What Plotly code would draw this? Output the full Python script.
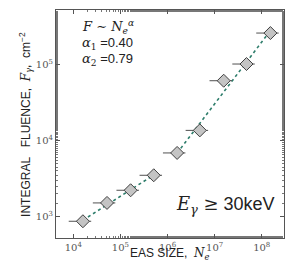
import numpy as np
import plotly.graph_objects as go

# Data
eas_size = [1.6e4, 5.2e4, 1.65e5, 5.1e5, 1.6e6, 4.85e6, 1.56e7, 4.75e7, 1.53e8]
fluence = [865, 1510, 2220, 3500, 6900, 13700, 62000, 103000, 264000]
rel_err = [0.5, 0.5, 0.5, 0.5, 0.5, 0.5, 0.5, 0.5, 0.5]
group1 = [0, 1, 2, 3]
group2 = [4, 5, 6, 7, 8]
alpha_labels = ["0.40", "0.79"]
x_tickvals = [1e4, 1e5, 1e6, 1e7, 1e8]
x_ticktext = ["10<sup>4</sup>", "10<sup>5</sup>", "10<sup>6</sup>", "10<sup>7</sup>", "10<sup>8</sup>"]
y_tickvals = [1e3, 1e4, 1e5]
y_ticktext = ["10<sup>3</sup>", "10<sup>4</sup>", "10<sup>5</sup>"]

x = np.array(eas_size)
y = np.array(fluence)
err = np.array(rel_err) * x

fig = go.Figure()

LINE_COLOR = "#2e7d6b"
for g in (group1, group2):
    lx = np.log10(x[g])
    ly = np.log10(y[g])
    k, b = np.polyfit(lx, ly, 1)
    xs = np.array([lx[0], lx[-1]])
    fig.add_trace(go.Scatter(
        x=10 ** xs, y=10 ** (k * xs + b), mode="lines",
        line=dict(color=LINE_COLOR, width=1.6, dash="dot"),
        showlegend=False, hoverinfo="skip"))

fig.add_trace(go.Scatter(
    x=x, y=y, mode="markers",
    marker=dict(symbol="diamond", size=10, color="#c4c4c4",
                line=dict(color="#404040", width=1)),
    error_x=dict(type="data", symmetric=True, array=err,
                 color="#505050", thickness=1, width=0),
    showlegend=False))

axis_common = dict(
    type="log", showgrid=False, zeroline=False,
    showline=True, linecolor="#555", linewidth=1, mirror="allticks",
    ticks="inside", ticklen=4, tickcolor="#555", tickwidth=1,
    minor=dict(ticks="inside", ticklen=2, tickcolor="#777", showgrid=False),
    tickfont=dict(family="DejaVu Serif", size=10, color="#555"),
)

fig.update_xaxes(**axis_common, range=[3.633, 8.473],
                 tickvals=x_tickvals, ticktext=x_ticktext, ticklabelstandoff=0)
fig.update_yaxes(**axis_common, range=[2.716, 5.726],
                 tickvals=y_tickvals, ticktext=y_ticktext)

title_font = dict(family="Liberation Sans", size=12, color="#222")
fig.add_annotation(
    xref="paper", yref="paper", x=0.5, y=-0.072, xanchor="center", yanchor="middle",
    text="EAS SIZE,  <i><span style='font-family:DejaVu Serif'>N<sub>e</sub></span></i>",
    showarrow=False, font=title_font)
fig.add_annotation(
    xref="paper", yref="paper", x=-0.132, y=0.5, xanchor="center", yanchor="middle",
    textangle=-90,
    text="INTEGRAL   FLUENCE,  <i><span style='font-family:DejaVu Serif'>F<sub>γ</sub></span></i>,  cm<sup>−2</sup>",
    showarrow=False, font=title_font)

fig.add_annotation(
    xref="paper", yref="paper", x=0.105, y=0.925, xanchor="left", yanchor="middle",
    text="<i>F</i> ∼ <i>N</i><sub><i>e</i></sub><sup><i>α</i></sup>", showarrow=False,
    font=dict(family="DejaVu Serif", size=13, color="#222"))
fig.add_annotation(
    xref="paper", yref="paper", x=0.105, y=0.855, xanchor="left", yanchor="middle",
    text="<span style='font-family:DejaVu Serif'><i>α</i><sub>1</sub></span> =" + alpha_labels[0],
    showarrow=False, font=dict(family="Liberation Sans", size=13, color="#222"))
fig.add_annotation(
    xref="paper", yref="paper", x=0.105, y=0.785, xanchor="left", yanchor="middle",
    text="<span style='font-family:DejaVu Serif'><i>α</i><sub>2</sub></span> =" + alpha_labels[1],
    showarrow=False, font=dict(family="Liberation Sans", size=13, color="#222"))
fig.add_annotation(
    xref="paper", yref="paper", x=0.97, y=0.145, xanchor="right", yanchor="middle",
    text="<span style='font-family:DejaVu Serif'><i>E<sub>γ</sub></i> ≥</span> 30keV",
    showarrow=False, font=dict(family="Liberation Sans", size=18, color="#222"))

fig.update_layout(
    width=299, height=260, autosize=False,
    margin=dict(l=48, r=23, t=2, b=30),
    plot_bgcolor="white", paper_bgcolor="white",
)

fig.write_html("out.html")
